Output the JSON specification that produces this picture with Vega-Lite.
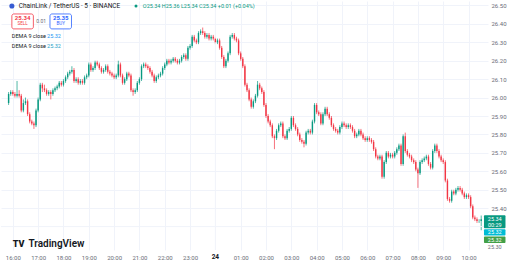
{
  "$schema": "https://vega.github.io/schema/vega-lite/v6.json",
  "width": 512,
  "height": 262,
  "autosize": {"type": "fit", "contains": "padding"},
  "padding": 0,
  "background": "#ffffff",
  "config": {"view": {"stroke": null}, "font": "Roboto"},
  "data": {"values": [{}]},
  "datasets": {
    "candles": [
      {"t":"2023-11-23T15:50:00Z","o":25.97,"h":26.03,"l":25.96,"c":26.02},
      {"t":"2023-11-23T15:55:00Z","o":26.02,"h":26.04,"l":26.01,"c":26.03},
      {"t":"2023-11-23T16:00:00Z","o":26.03,"h":26.04,"l":26.01,"c":26.02},
      {"t":"2023-11-23T16:05:00Z","o":26.02,"h":26.03,"l":26.00,"c":26.01},
      {"t":"2023-11-23T16:10:00Z","o":26.01,"h":26.09,"l":26.00,"c":26.02},
      {"t":"2023-11-23T16:15:00Z","o":26.02,"h":26.04,"l":26.00,"c":26.01},
      {"t":"2023-11-23T16:20:00Z","o":26.01,"h":26.02,"l":25.92,"c":25.93},
      {"t":"2023-11-23T16:25:00Z","o":25.93,"h":25.99,"l":25.92,"c":25.97},
      {"t":"2023-11-23T16:30:00Z","o":25.97,"h":26.00,"l":25.96,"c":25.98},
      {"t":"2023-11-23T16:35:00Z","o":25.98,"h":25.99,"l":25.90,"c":25.91},
      {"t":"2023-11-23T16:40:00Z","o":25.91,"h":25.92,"l":25.86,"c":25.87},
      {"t":"2023-11-23T16:45:00Z","o":25.87,"h":25.88,"l":25.85,"c":25.86},
      {"t":"2023-11-23T16:50:00Z","o":25.86,"h":25.87,"l":25.83,"c":25.85},
      {"t":"2023-11-23T16:55:00Z","o":25.85,"h":25.94,"l":25.84,"c":25.93},
      {"t":"2023-11-23T17:00:00Z","o":25.93,"h":26.00,"l":25.92,"c":25.99},
      {"t":"2023-11-23T17:05:00Z","o":25.99,"h":26.08,"l":25.98,"c":26.07},
      {"t":"2023-11-23T17:10:00Z","o":26.07,"h":26.08,"l":26.03,"c":26.05},
      {"t":"2023-11-23T17:15:00Z","o":26.05,"h":26.07,"l":26.03,"c":26.04},
      {"t":"2023-11-23T17:20:00Z","o":26.04,"h":26.05,"l":26.01,"c":26.02},
      {"t":"2023-11-23T17:25:00Z","o":26.02,"h":26.04,"l":26.01,"c":26.03},
      {"t":"2023-11-23T17:30:00Z","o":26.03,"h":26.04,"l":25.99,"c":26.02},
      {"t":"2023-11-23T17:35:00Z","o":26.02,"h":26.05,"l":26.01,"c":26.04},
      {"t":"2023-11-23T17:40:00Z","o":26.04,"h":26.06,"l":26.03,"c":26.05},
      {"t":"2023-11-23T17:45:00Z","o":26.05,"h":26.07,"l":26.04,"c":26.06},
      {"t":"2023-11-23T17:50:00Z","o":26.06,"h":26.09,"l":26.05,"c":26.08},
      {"t":"2023-11-23T17:55:00Z","o":26.08,"h":26.09,"l":26.06,"c":26.07},
      {"t":"2023-11-23T18:00:00Z","o":26.07,"h":26.10,"l":26.06,"c":26.09},
      {"t":"2023-11-23T18:05:00Z","o":26.09,"h":26.12,"l":26.08,"c":26.11},
      {"t":"2023-11-23T18:10:00Z","o":26.11,"h":26.14,"l":26.10,"c":26.13},
      {"t":"2023-11-23T18:15:00Z","o":26.13,"h":26.15,"l":26.12,"c":26.14},
      {"t":"2023-11-23T18:20:00Z","o":26.14,"h":26.17,"l":26.13,"c":26.15},
      {"t":"2023-11-23T18:25:00Z","o":26.15,"h":26.16,"l":26.08,"c":26.09},
      {"t":"2023-11-23T18:30:00Z","o":26.09,"h":26.11,"l":26.08,"c":26.10},
      {"t":"2023-11-23T18:35:00Z","o":26.10,"h":26.11,"l":26.07,"c":26.08},
      {"t":"2023-11-23T18:40:00Z","o":26.08,"h":26.10,"l":26.07,"c":26.09},
      {"t":"2023-11-23T18:45:00Z","o":26.09,"h":26.10,"l":26.07,"c":26.08},
      {"t":"2023-11-23T18:50:00Z","o":26.08,"h":26.12,"l":26.07,"c":26.11},
      {"t":"2023-11-23T18:55:00Z","o":26.11,"h":26.13,"l":26.10,"c":26.12},
      {"t":"2023-11-23T19:00:00Z","o":26.12,"h":26.19,"l":26.11,"c":26.18},
      {"t":"2023-11-23T19:05:00Z","o":26.18,"h":26.19,"l":26.14,"c":26.15},
      {"t":"2023-11-23T19:10:00Z","o":26.15,"h":26.17,"l":26.14,"c":26.16},
      {"t":"2023-11-23T19:15:00Z","o":26.16,"h":26.20,"l":26.15,"c":26.19},
      {"t":"2023-11-23T19:20:00Z","o":26.19,"h":26.20,"l":26.17,"c":26.18},
      {"t":"2023-11-23T19:25:00Z","o":26.18,"h":26.19,"l":26.15,"c":26.16},
      {"t":"2023-11-23T19:30:00Z","o":26.16,"h":26.17,"l":26.13,"c":26.14},
      {"t":"2023-11-23T19:35:00Z","o":26.14,"h":26.16,"l":26.13,"c":26.15},
      {"t":"2023-11-23T19:40:00Z","o":26.15,"h":26.18,"l":26.14,"c":26.17},
      {"t":"2023-11-23T19:45:00Z","o":26.17,"h":26.18,"l":26.13,"c":26.14},
      {"t":"2023-11-23T19:50:00Z","o":26.14,"h":26.15,"l":26.12,"c":26.13},
      {"t":"2023-11-23T19:55:00Z","o":26.13,"h":26.14,"l":26.11,"c":26.12},
      {"t":"2023-11-23T20:00:00Z","o":26.12,"h":26.13,"l":26.10,"c":26.11},
      {"t":"2023-11-23T20:05:00Z","o":26.11,"h":26.13,"l":26.10,"c":26.12},
      {"t":"2023-11-23T20:10:00Z","o":26.12,"h":26.20,"l":26.11,"c":26.18},
      {"t":"2023-11-23T20:15:00Z","o":26.18,"h":26.19,"l":26.11,"c":26.12},
      {"t":"2023-11-23T20:20:00Z","o":26.12,"h":26.13,"l":26.07,"c":26.08},
      {"t":"2023-11-23T20:25:00Z","o":26.08,"h":26.11,"l":26.07,"c":26.10},
      {"t":"2023-11-23T20:30:00Z","o":26.10,"h":26.14,"l":26.09,"c":26.13},
      {"t":"2023-11-23T20:35:00Z","o":26.13,"h":26.14,"l":26.11,"c":26.12},
      {"t":"2023-11-23T20:40:00Z","o":26.12,"h":26.13,"l":26.03,"c":26.04},
      {"t":"2023-11-23T20:45:00Z","o":26.04,"h":26.05,"l":26.01,"c":26.03},
      {"t":"2023-11-23T20:50:00Z","o":26.03,"h":26.05,"l":26.02,"c":26.04},
      {"t":"2023-11-23T20:55:00Z","o":26.04,"h":26.09,"l":26.03,"c":26.08},
      {"t":"2023-11-23T21:00:00Z","o":26.08,"h":26.11,"l":26.07,"c":26.10},
      {"t":"2023-11-23T21:05:00Z","o":26.10,"h":26.18,"l":26.09,"c":26.17},
      {"t":"2023-11-23T21:10:00Z","o":26.17,"h":26.19,"l":26.16,"c":26.18},
      {"t":"2023-11-23T21:15:00Z","o":26.18,"h":26.19,"l":26.16,"c":26.17},
      {"t":"2023-11-23T21:20:00Z","o":26.17,"h":26.18,"l":26.15,"c":26.16},
      {"t":"2023-11-23T21:25:00Z","o":26.16,"h":26.17,"l":26.13,"c":26.14},
      {"t":"2023-11-23T21:30:00Z","o":26.14,"h":26.15,"l":26.11,"c":26.12},
      {"t":"2023-11-23T21:35:00Z","o":26.12,"h":26.13,"l":26.08,"c":26.09},
      {"t":"2023-11-23T21:40:00Z","o":26.09,"h":26.12,"l":26.08,"c":26.11},
      {"t":"2023-11-23T21:45:00Z","o":26.11,"h":26.13,"l":26.10,"c":26.12},
      {"t":"2023-11-23T21:50:00Z","o":26.12,"h":26.14,"l":26.11,"c":26.13},
      {"t":"2023-11-23T21:55:00Z","o":26.13,"h":26.17,"l":26.12,"c":26.16},
      {"t":"2023-11-23T22:00:00Z","o":26.16,"h":26.19,"l":26.15,"c":26.18},
      {"t":"2023-11-23T22:05:00Z","o":26.18,"h":26.21,"l":26.17,"c":26.20},
      {"t":"2023-11-23T22:10:00Z","o":26.20,"h":26.21,"l":26.18,"c":26.19},
      {"t":"2023-11-23T22:15:00Z","o":26.19,"h":26.21,"l":26.18,"c":26.20},
      {"t":"2023-11-23T22:20:00Z","o":26.20,"h":26.22,"l":26.19,"c":26.21},
      {"t":"2023-11-23T22:25:00Z","o":26.21,"h":26.22,"l":26.19,"c":26.20},
      {"t":"2023-11-23T22:30:00Z","o":26.20,"h":26.21,"l":26.18,"c":26.19},
      {"t":"2023-11-23T22:35:00Z","o":26.19,"h":26.21,"l":26.18,"c":26.20},
      {"t":"2023-11-23T22:40:00Z","o":26.20,"h":26.23,"l":26.19,"c":26.22},
      {"t":"2023-11-23T22:45:00Z","o":26.22,"h":26.24,"l":26.21,"c":26.23},
      {"t":"2023-11-23T22:50:00Z","o":26.23,"h":26.24,"l":26.20,"c":26.21},
      {"t":"2023-11-23T22:55:00Z","o":26.21,"h":26.28,"l":26.20,"c":26.27},
      {"t":"2023-11-23T23:00:00Z","o":26.27,"h":26.29,"l":26.26,"c":26.28},
      {"t":"2023-11-23T23:05:00Z","o":26.28,"h":26.34,"l":26.27,"c":26.33},
      {"t":"2023-11-23T23:10:00Z","o":26.33,"h":26.34,"l":26.30,"c":26.31},
      {"t":"2023-11-23T23:15:00Z","o":26.31,"h":26.32,"l":26.29,"c":26.30},
      {"t":"2023-11-23T23:20:00Z","o":26.30,"h":26.36,"l":26.29,"c":26.35},
      {"t":"2023-11-23T23:25:00Z","o":26.35,"h":26.37,"l":26.34,"c":26.36},
      {"t":"2023-11-23T23:30:00Z","o":26.36,"h":26.38,"l":26.34,"c":26.35},
      {"t":"2023-11-23T23:35:00Z","o":26.35,"h":26.36,"l":26.32,"c":26.33},
      {"t":"2023-11-23T23:40:00Z","o":26.33,"h":26.35,"l":26.32,"c":26.34},
      {"t":"2023-11-23T23:45:00Z","o":26.34,"h":26.35,"l":26.31,"c":26.32},
      {"t":"2023-11-23T23:50:00Z","o":26.32,"h":26.34,"l":26.31,"c":26.33},
      {"t":"2023-11-23T23:55:00Z","o":26.33,"h":26.34,"l":26.31,"c":26.32},
      {"t":"2023-11-24T00:00:00Z","o":26.32,"h":26.33,"l":26.29,"c":26.30},
      {"t":"2023-11-24T00:05:00Z","o":26.30,"h":26.32,"l":26.29,"c":26.31},
      {"t":"2023-11-24T00:10:00Z","o":26.31,"h":26.32,"l":26.26,"c":26.27},
      {"t":"2023-11-24T00:15:00Z","o":26.27,"h":26.28,"l":26.21,"c":26.22},
      {"t":"2023-11-24T00:20:00Z","o":26.22,"h":26.23,"l":26.16,"c":26.17},
      {"t":"2023-11-24T00:25:00Z","o":26.17,"h":26.21,"l":26.16,"c":26.20},
      {"t":"2023-11-24T00:30:00Z","o":26.20,"h":26.25,"l":26.19,"c":26.24},
      {"t":"2023-11-24T00:35:00Z","o":26.24,"h":26.34,"l":26.23,"c":26.33},
      {"t":"2023-11-24T00:40:00Z","o":26.33,"h":26.35,"l":26.32,"c":26.34},
      {"t":"2023-11-24T00:45:00Z","o":26.34,"h":26.35,"l":26.31,"c":26.32},
      {"t":"2023-11-24T00:50:00Z","o":26.32,"h":26.33,"l":26.30,"c":26.31},
      {"t":"2023-11-24T00:55:00Z","o":26.31,"h":26.32,"l":26.23,"c":26.24},
      {"t":"2023-11-24T01:00:00Z","o":26.24,"h":26.25,"l":26.20,"c":26.21},
      {"t":"2023-11-24T01:05:00Z","o":26.21,"h":26.22,"l":26.16,"c":26.17},
      {"t":"2023-11-24T01:10:00Z","o":26.17,"h":26.18,"l":26.06,"c":26.07},
      {"t":"2023-11-24T01:15:00Z","o":26.07,"h":26.08,"l":26.03,"c":26.04},
      {"t":"2023-11-24T01:20:00Z","o":26.04,"h":26.05,"l":25.98,"c":25.99},
      {"t":"2023-11-24T01:25:00Z","o":25.99,"h":26.00,"l":25.94,"c":25.95},
      {"t":"2023-11-24T01:30:00Z","o":25.95,"h":25.99,"l":25.94,"c":25.98},
      {"t":"2023-11-24T01:35:00Z","o":25.98,"h":26.02,"l":25.97,"c":26.01},
      {"t":"2023-11-24T01:40:00Z","o":26.01,"h":26.09,"l":26.00,"c":26.07},
      {"t":"2023-11-24T01:45:00Z","o":26.07,"h":26.08,"l":26.04,"c":26.05},
      {"t":"2023-11-24T01:50:00Z","o":26.05,"h":26.06,"l":26.02,"c":26.03},
      {"t":"2023-11-24T01:55:00Z","o":26.03,"h":26.04,"l":25.95,"c":25.96},
      {"t":"2023-11-24T02:00:00Z","o":25.96,"h":25.97,"l":25.89,"c":25.90},
      {"t":"2023-11-24T02:05:00Z","o":25.90,"h":25.91,"l":25.86,"c":25.87},
      {"t":"2023-11-24T02:10:00Z","o":25.87,"h":25.88,"l":25.84,"c":25.85},
      {"t":"2023-11-24T02:15:00Z","o":25.85,"h":25.86,"l":25.78,"c":25.79},
      {"t":"2023-11-24T02:20:00Z","o":25.79,"h":25.80,"l":25.72,"c":25.78},
      {"t":"2023-11-24T02:25:00Z","o":25.78,"h":25.83,"l":25.77,"c":25.82},
      {"t":"2023-11-24T02:30:00Z","o":25.82,"h":25.86,"l":25.81,"c":25.85},
      {"t":"2023-11-24T02:35:00Z","o":25.85,"h":25.87,"l":25.84,"c":25.86},
      {"t":"2023-11-24T02:40:00Z","o":25.86,"h":25.87,"l":25.78,"c":25.79},
      {"t":"2023-11-24T02:45:00Z","o":25.79,"h":25.80,"l":25.77,"c":25.78},
      {"t":"2023-11-24T02:50:00Z","o":25.78,"h":25.83,"l":25.77,"c":25.82},
      {"t":"2023-11-24T02:55:00Z","o":25.82,"h":25.84,"l":25.81,"c":25.83},
      {"t":"2023-11-24T03:00:00Z","o":25.83,"h":25.90,"l":25.82,"c":25.89},
      {"t":"2023-11-24T03:05:00Z","o":25.89,"h":25.90,"l":25.84,"c":25.85},
      {"t":"2023-11-24T03:10:00Z","o":25.85,"h":25.86,"l":25.82,"c":25.83},
      {"t":"2023-11-24T03:15:00Z","o":25.83,"h":25.84,"l":25.79,"c":25.80},
      {"t":"2023-11-24T03:20:00Z","o":25.80,"h":25.81,"l":25.76,"c":25.77},
      {"t":"2023-11-24T03:25:00Z","o":25.77,"h":25.78,"l":25.75,"c":25.76},
      {"t":"2023-11-24T03:30:00Z","o":25.76,"h":25.77,"l":25.73,"c":25.75},
      {"t":"2023-11-24T03:35:00Z","o":25.75,"h":25.82,"l":25.74,"c":25.81},
      {"t":"2023-11-24T03:40:00Z","o":25.81,"h":25.83,"l":25.80,"c":25.82},
      {"t":"2023-11-24T03:45:00Z","o":25.82,"h":25.83,"l":25.80,"c":25.81},
      {"t":"2023-11-24T03:50:00Z","o":25.81,"h":25.88,"l":25.80,"c":25.87},
      {"t":"2023-11-24T03:55:00Z","o":25.87,"h":25.97,"l":25.86,"c":25.96},
      {"t":"2023-11-24T04:00:00Z","o":25.96,"h":25.97,"l":25.91,"c":25.92},
      {"t":"2023-11-24T04:05:00Z","o":25.92,"h":25.93,"l":25.90,"c":25.91},
      {"t":"2023-11-24T04:10:00Z","o":25.91,"h":25.92,"l":25.85,"c":25.86},
      {"t":"2023-11-24T04:15:00Z","o":25.86,"h":25.92,"l":25.85,"c":25.91},
      {"t":"2023-11-24T04:20:00Z","o":25.91,"h":25.95,"l":25.90,"c":25.94},
      {"t":"2023-11-24T04:25:00Z","o":25.94,"h":25.95,"l":25.90,"c":25.91},
      {"t":"2023-11-24T04:30:00Z","o":25.91,"h":25.92,"l":25.88,"c":25.89},
      {"t":"2023-11-24T04:35:00Z","o":25.89,"h":25.90,"l":25.84,"c":25.85},
      {"t":"2023-11-24T04:40:00Z","o":25.85,"h":25.86,"l":25.82,"c":25.83},
      {"t":"2023-11-24T04:45:00Z","o":25.83,"h":25.84,"l":25.81,"c":25.82},
      {"t":"2023-11-24T04:50:00Z","o":25.82,"h":25.83,"l":25.80,"c":25.81},
      {"t":"2023-11-24T04:55:00Z","o":25.81,"h":25.85,"l":25.80,"c":25.84},
      {"t":"2023-11-24T05:00:00Z","o":25.84,"h":25.87,"l":25.83,"c":25.86},
      {"t":"2023-11-24T05:05:00Z","o":25.86,"h":25.87,"l":25.84,"c":25.85},
      {"t":"2023-11-24T05:10:00Z","o":25.85,"h":25.86,"l":25.83,"c":25.84},
      {"t":"2023-11-24T05:15:00Z","o":25.84,"h":25.86,"l":25.83,"c":25.85},
      {"t":"2023-11-24T05:20:00Z","o":25.85,"h":25.86,"l":25.83,"c":25.84},
      {"t":"2023-11-24T05:25:00Z","o":25.84,"h":25.85,"l":25.81,"c":25.82},
      {"t":"2023-11-24T05:30:00Z","o":25.82,"h":25.83,"l":25.78,"c":25.79},
      {"t":"2023-11-24T05:35:00Z","o":25.79,"h":25.81,"l":25.78,"c":25.80},
      {"t":"2023-11-24T05:40:00Z","o":25.80,"h":25.83,"l":25.79,"c":25.82},
      {"t":"2023-11-24T05:45:00Z","o":25.82,"h":25.83,"l":25.79,"c":25.80},
      {"t":"2023-11-24T05:50:00Z","o":25.80,"h":25.81,"l":25.77,"c":25.78},
      {"t":"2023-11-24T05:55:00Z","o":25.78,"h":25.79,"l":25.76,"c":25.77},
      {"t":"2023-11-24T06:00:00Z","o":25.77,"h":25.79,"l":25.76,"c":25.78},
      {"t":"2023-11-24T06:05:00Z","o":25.78,"h":25.79,"l":25.76,"c":25.77},
      {"t":"2023-11-24T06:10:00Z","o":25.77,"h":25.78,"l":25.75,"c":25.76},
      {"t":"2023-11-24T06:15:00Z","o":25.76,"h":25.77,"l":25.71,"c":25.72},
      {"t":"2023-11-24T06:20:00Z","o":25.72,"h":25.73,"l":25.67,"c":25.68},
      {"t":"2023-11-24T06:25:00Z","o":25.68,"h":25.69,"l":25.66,"c":25.67},
      {"t":"2023-11-24T06:30:00Z","o":25.67,"h":25.69,"l":25.66,"c":25.68},
      {"t":"2023-11-24T06:35:00Z","o":25.68,"h":25.69,"l":25.56,"c":25.57},
      {"t":"2023-11-24T06:40:00Z","o":25.57,"h":25.66,"l":25.56,"c":25.65},
      {"t":"2023-11-24T06:45:00Z","o":25.65,"h":25.71,"l":25.64,"c":25.70},
      {"t":"2023-11-24T06:50:00Z","o":25.70,"h":25.71,"l":25.67,"c":25.68},
      {"t":"2023-11-24T06:55:00Z","o":25.68,"h":25.70,"l":25.67,"c":25.69},
      {"t":"2023-11-24T07:00:00Z","o":25.69,"h":25.70,"l":25.67,"c":25.68},
      {"t":"2023-11-24T07:05:00Z","o":25.68,"h":25.71,"l":25.67,"c":25.70},
      {"t":"2023-11-24T07:10:00Z","o":25.70,"h":25.73,"l":25.69,"c":25.72},
      {"t":"2023-11-24T07:15:00Z","o":25.72,"h":25.75,"l":25.71,"c":25.74},
      {"t":"2023-11-24T07:20:00Z","o":25.74,"h":25.75,"l":25.63,"c":25.64},
      {"t":"2023-11-24T07:25:00Z","o":25.64,"h":25.80,"l":25.63,"c":25.79},
      {"t":"2023-11-24T07:30:00Z","o":25.79,"h":25.81,"l":25.70,"c":25.71},
      {"t":"2023-11-24T07:35:00Z","o":25.71,"h":25.72,"l":25.68,"c":25.69},
      {"t":"2023-11-24T07:40:00Z","o":25.69,"h":25.70,"l":25.67,"c":25.68},
      {"t":"2023-11-24T07:45:00Z","o":25.68,"h":25.69,"l":25.65,"c":25.66},
      {"t":"2023-11-24T07:50:00Z","o":25.66,"h":25.67,"l":25.64,"c":25.65},
      {"t":"2023-11-24T07:55:00Z","o":25.65,"h":25.66,"l":25.60,"c":25.61},
      {"t":"2023-11-24T08:00:00Z","o":25.61,"h":25.62,"l":25.51,"c":25.59},
      {"t":"2023-11-24T08:05:00Z","o":25.59,"h":25.66,"l":25.58,"c":25.65},
      {"t":"2023-11-24T08:10:00Z","o":25.65,"h":25.67,"l":25.64,"c":25.66},
      {"t":"2023-11-24T08:15:00Z","o":25.66,"h":25.68,"l":25.65,"c":25.67},
      {"t":"2023-11-24T08:20:00Z","o":25.67,"h":25.69,"l":25.66,"c":25.68},
      {"t":"2023-11-24T08:25:00Z","o":25.68,"h":25.69,"l":25.63,"c":25.64},
      {"t":"2023-11-24T08:30:00Z","o":25.64,"h":25.65,"l":25.61,"c":25.62},
      {"t":"2023-11-24T08:35:00Z","o":25.62,"h":25.72,"l":25.61,"c":25.71},
      {"t":"2023-11-24T08:40:00Z","o":25.71,"h":25.75,"l":25.70,"c":25.74},
      {"t":"2023-11-24T08:45:00Z","o":25.74,"h":25.75,"l":25.70,"c":25.71},
      {"t":"2023-11-24T08:50:00Z","o":25.71,"h":25.72,"l":25.67,"c":25.68},
      {"t":"2023-11-24T08:55:00Z","o":25.68,"h":25.69,"l":25.65,"c":25.66},
      {"t":"2023-11-24T09:00:00Z","o":25.66,"h":25.67,"l":25.64,"c":25.65},
      {"t":"2023-11-24T09:05:00Z","o":25.65,"h":25.66,"l":25.54,"c":25.55},
      {"t":"2023-11-24T09:10:00Z","o":25.55,"h":25.56,"l":25.44,"c":25.45},
      {"t":"2023-11-24T09:15:00Z","o":25.45,"h":25.46,"l":25.43,"c":25.44},
      {"t":"2023-11-24T09:20:00Z","o":25.44,"h":25.50,"l":25.43,"c":25.49},
      {"t":"2023-11-24T09:25:00Z","o":25.49,"h":25.50,"l":25.47,"c":25.48},
      {"t":"2023-11-24T09:30:00Z","o":25.48,"h":25.51,"l":25.47,"c":25.50},
      {"t":"2023-11-24T09:35:00Z","o":25.50,"h":25.52,"l":25.49,"c":25.51},
      {"t":"2023-11-24T09:40:00Z","o":25.51,"h":25.52,"l":25.49,"c":25.50},
      {"t":"2023-11-24T09:45:00Z","o":25.50,"h":25.51,"l":25.47,"c":25.48},
      {"t":"2023-11-24T09:50:00Z","o":25.48,"h":25.49,"l":25.45,"c":25.46},
      {"t":"2023-11-24T09:55:00Z","o":25.46,"h":25.48,"l":25.45,"c":25.47},
      {"t":"2023-11-24T10:00:00Z","o":25.47,"h":25.48,"l":25.45,"c":25.46},
      {"t":"2023-11-24T10:05:00Z","o":25.46,"h":25.47,"l":25.40,"c":25.41},
      {"t":"2023-11-24T10:10:00Z","o":25.41,"h":25.42,"l":25.34,"c":25.35},
      {"t":"2023-11-24T10:15:00Z","o":25.35,"h":25.36,"l":25.33,"c":25.34},
      {"t":"2023-11-24T10:20:00Z","o":25.34,"h":25.35,"l":25.32,"c":25.33},
      {"t":"2023-11-24T10:25:00Z","o":25.33,"h":25.34,"l":25.32,"c":25.33},
      {"t":"2023-11-24T10:30:00Z","o":25.33,"h":25.36,"l":25.28,"c":25.34}
    ]
  },
  "layer": [
    {
      "data": {"name": "candles"},
      "mark": {"type": "rule", "strokeWidth": 0.7},
      "encoding": {
        "x": {"field": "t", "type": "temporal", "title": null,
          "scale": {"type": "utc", "domain": [1700754230000, 1700822055000]},
          "axis": {"title": null, "format": "%H:%M", "tickCount": 40,
            "values": [1700755200000, 1700758800000, 1700762400000, 1700766000000, 1700769600000, 1700773200000, 1700776800000, 1700780400000, 1700787600000, 1700791200000, 1700794800000, 1700798400000, 1700802000000, 1700805600000, 1700809200000, 1700812800000, 1700816400000, 1700820000000],
            "grid": true, "gridColor": "#f0f3fa", "gridWidth": 1, "domain": false, "ticks": false,
            "labelFontSize": 6, "labelColor": "#6a6d78", "labelPadding": 4, "labelOverlap": false,
            "minExtent": 12, "maxExtent": 12}},
        "y": {"field": "l", "type": "quantitative", "title": null,
          "scale": {"domain": [25.173, 26.524], "zero": false, "nice": false},
          "axis": {"title": null, "orient": "right", "tickCount": 40,
            "values": [25.4, 25.5, 25.6, 25.7, 25.8, 25.9, 26.0, 26.1, 26.2, 26.3, 26.4, 26.5],
            "format": ".2f", "grid": true, "gridColor": "#f0f3fa", "gridWidth": 1, "domain": false, "ticks": false,
            "labelFontSize": 6, "labelColor": "#6a6d78", "labelPadding": 3, "labelOverlap": false,
            "minExtent": 24, "maxExtent": 24}},
        "y2": {"field": "h"},
        "color": {"condition": {"test": "datum.c >= datum.o", "value": "#089981"}, "value": "#f23645"}
      }
    },
    {
      "mark": {"type": "rule", "color": "#f0f3fa", "strokeWidth": 1},
      "encoding": {"x": {"datum": 1700784000000, "type": "temporal"}}
    },
    {
      "mark": {"type": "rule", "color": "#f0f3fa", "strokeWidth": 1},
      "encoding": {"y": {"datum": 25.3, "type": "quantitative"}}
    },
    {
      "data": {"name": "candles"},
      "mark": {"type": "bar", "size": 1.4},
      "encoding": {
        "x": {"field": "t", "type": "temporal", "title": null},
        "y": {"field": "o", "type": "quantitative", "title": null},
        "y2": {"field": "c"},
        "color": {"condition": {"test": "datum.c >= datum.o", "value": "#089981"}, "value": "#f23645"}
      }
    },
    {
      "mark": {"type": "text", "text": "24", "align": "center", "baseline": "middle", "fontSize": 6.5, "fontWeight": "bold", "color": "#131722"},
      "encoding": {"x": {"datum": 1700784000000, "type": "temporal"}, "y": {"datum": 25.135, "type": "quantitative"}}
    },
    {
      "mark": {"type": "point", "filled": true, "size": 26, "color": "#375bd2", "opacity": 1},
      "encoding": {"x": {"datum": 1700755064000, "type": "temporal"}, "y": {"datum": 26.497, "type": "quantitative"}}
    },
    {
      "mark": {"type": "text", "text": "ChainLink / TetherUS · 5 · BINANCE", "align": "left", "baseline": "middle", "fontSize": 6.5, "color": "#131722"},
      "encoding": {"x": {"datum": 1700756037000, "type": "temporal"}, "y": {"datum": 26.497, "type": "quantitative"}}
    },
    {
      "mark": {"type": "point", "filled": true, "size": 9, "color": "#089981", "opacity": 1},
      "encoding": {"x": {"datum": 1700772715000, "type": "temporal"}, "y": {"datum": 26.497, "type": "quantitative"}}
    },
    {
      "mark": {"type": "text", "text": "O25.34 H25.36 L25.34 C25.34 +0.01 (+0.04%)", "align": "left", "baseline": "middle", "fontSize": 5.5, "color": "#089981"},
      "encoding": {"x": {"datum": 1700773688000, "type": "temporal"}, "y": {"datum": 26.497, "type": "quantitative"}}
    },
    {
      "mark": {"type": "rect", "fill": "#ffffff", "stroke": "#f23645", "strokeWidth": 0.8, "cornerRadius": 2},
      "encoding": {"x": {"datum": 1700755064000, "type": "temporal"}, "x2": {"datum": 1700758122000}, "y": {"datum": 26.4537, "type": "quantitative"}, "y2": {"datum": 26.3726}}
    },
    {
      "mark": {"type": "text", "text": "25.34", "align": "center", "baseline": "middle", "fontSize": 6, "fontWeight": "bold", "color": "#f23645"},
      "encoding": {"x": {"datum": 1700756593000, "type": "temporal"}, "y": {"datum": 26.43, "type": "quantitative"}}
    },
    {
      "mark": {"type": "text", "text": "SELL", "align": "center", "baseline": "middle", "fontSize": 4.5, "color": "#f23645"},
      "encoding": {"x": {"datum": 1700756593000, "type": "temporal"}, "y": {"datum": 26.397, "type": "quantitative"}}
    },
    {
      "mark": {"type": "text", "text": "0.01", "align": "center", "baseline": "middle", "fontSize": 5, "color": "#6a6d78"},
      "encoding": {"x": {"datum": 1700759233000, "type": "temporal"}, "y": {"datum": 26.413, "type": "quantitative"}}
    },
    {
      "mark": {"type": "rect", "fill": "#ffffff", "stroke": "#2962ff", "strokeWidth": 0.8, "cornerRadius": 2},
      "encoding": {"x": {"datum": 1700760484000, "type": "temporal"}, "x2": {"datum": 1700763542000}, "y": {"datum": 26.4537, "type": "quantitative"}, "y2": {"datum": 26.3726}}
    },
    {
      "mark": {"type": "text", "text": "25.35", "align": "center", "baseline": "middle", "fontSize": 6, "fontWeight": "bold", "color": "#2962ff"},
      "encoding": {"x": {"datum": 1700762013000, "type": "temporal"}, "y": {"datum": 26.43, "type": "quantitative"}}
    },
    {
      "mark": {"type": "text", "text": "BUY", "align": "center", "baseline": "middle", "fontSize": 4.5, "color": "#2962ff"},
      "encoding": {"x": {"datum": 1700762013000, "type": "temporal"}, "y": {"datum": 26.397, "type": "quantitative"}}
    },
    {
      "mark": {"type": "text", "text": "DEMA 9 close", "align": "left", "baseline": "middle", "fontSize": 5.5, "color": "#131722"},
      "encoding": {"x": {"datum": 1700755064000, "type": "temporal"}, "y": {"datum": 26.335, "type": "quantitative"}}
    },
    {
      "mark": {"type": "text", "text": "25.32", "align": "left", "baseline": "middle", "fontSize": 5.5, "color": "#2196f3"},
      "encoding": {"x": {"datum": 1700760067000, "type": "temporal"}, "y": {"datum": 26.335, "type": "quantitative"}}
    },
    {
      "mark": {"type": "text", "text": "DEMA 9 close", "align": "left", "baseline": "middle", "fontSize": 5.5, "color": "#131722"},
      "encoding": {"x": {"datum": 1700755064000, "type": "temporal"}, "y": {"datum": 26.281, "type": "quantitative"}}
    },
    {
      "mark": {"type": "text", "text": "25.32", "align": "left", "baseline": "middle", "fontSize": 5.5, "color": "#26a2c9"},
      "encoding": {"x": {"datum": 1700760067000, "type": "temporal"}, "y": {"datum": 26.281, "type": "quantitative"}}
    },
    {
      "mark": {"type": "text", "text": "TV", "align": "left", "baseline": "middle", "fontSize": 9, "fontWeight": 900, "color": "#131722"},
      "encoding": {"x": {"datum": 1700755202000, "type": "temporal"}, "y": {"datum": 25.205, "type": "quantitative"}}
    },
    {
      "mark": {"type": "text", "text": "TradingView", "align": "left", "baseline": "middle", "fontSize": 10, "fontWeight": 600, "color": "#131722"},
      "encoding": {"x": {"datum": 1700757428000, "type": "temporal"}, "y": {"datum": 25.205, "type": "quantitative"}}
    },
    {
      "mark": {"type": "rect", "fill": "#089981", "cornerRadius": 1},
      "encoding": {"x": {"datum": 1700822194000, "type": "temporal"}, "x2": {"datum": 1700825252000}, "y": {"datum": 25.3618, "type": "quantitative"}, "y2": {"datum": 25.2916}}
    },
    {
      "mark": {"type": "text", "text": "25.34", "align": "center", "baseline": "middle", "fontSize": 5.5, "color": "#ffffff"},
      "encoding": {"x": {"datum": 1700823723000, "type": "temporal"}, "y": {"datum": 25.343, "type": "quantitative"}}
    },
    {
      "mark": {"type": "text", "text": "00:29", "align": "center", "baseline": "middle", "fontSize": 5.5, "color": "#ffffff"},
      "encoding": {"x": {"datum": 1700823723000, "type": "temporal"}, "y": {"datum": 25.308, "type": "quantitative"}}
    },
    {
      "mark": {"type": "rect", "fill": "#00bcd4", "cornerRadius": 1},
      "encoding": {"x": {"datum": 1700822194000, "type": "temporal"}, "x2": {"datum": 1700825252000}, "y": {"datum": 25.2862, "type": "quantitative"}, "y2": {"datum": 25.251}}
    },
    {
      "mark": {"type": "text", "text": "25.32", "align": "center", "baseline": "middle", "fontSize": 5.5, "color": "#ffffff"},
      "encoding": {"x": {"datum": 1700823723000, "type": "temporal"}, "y": {"datum": 25.2683, "type": "quantitative"}}
    },
    {
      "mark": {"type": "rect", "fill": "#43a047", "cornerRadius": 1},
      "encoding": {"x": {"datum": 1700822194000, "type": "temporal"}, "x2": {"datum": 1700825252000}, "y": {"datum": 25.2456, "type": "quantitative"}, "y2": {"datum": 25.2105}}
    },
    {
      "mark": {"type": "text", "text": "25.32", "align": "center", "baseline": "middle", "fontSize": 5.5, "color": "#ffffff"},
      "encoding": {"x": {"datum": 1700823723000, "type": "temporal"}, "y": {"datum": 25.2278, "type": "quantitative"}}
    },
    {
      "mark": {"type": "text", "text": "25.30", "align": "center", "baseline": "middle", "fontSize": 5.5, "color": "#6a6d78"},
      "encoding": {"x": {"datum": 1700823723000, "type": "temporal"}, "y": {"datum": 25.189, "type": "quantitative"}}
    }
  ]
}
